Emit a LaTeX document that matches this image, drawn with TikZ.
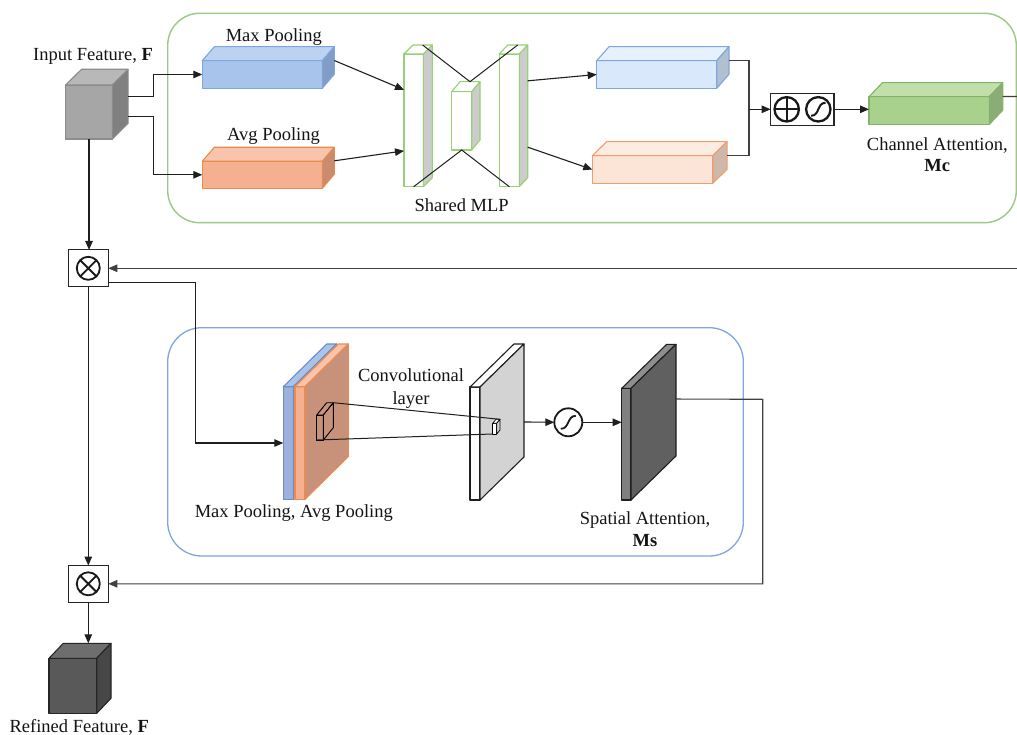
\documentclass[tikz,border=0pt]{standalone}
\usepackage{fontspec}
\setmainfont{Liberation Serif}
\usetikzlibrary{arrows.meta,calc}
\definecolor{cInF}{HTML}{A6A6A6}\definecolor{cInT}{HTML}{B8B8B8}\definecolor{cInS}{HTML}{808080}\definecolor{cInL}{HTML}{8C8C8C}
\definecolor{cMpF}{HTML}{A9C4EB}\definecolor{cMpT}{HTML}{BDD2F0}\definecolor{cMpS}{HTML}{809DC6}\definecolor{cMpL}{HTML}{7EA6E0}
\definecolor{cApF}{HTML}{F5B08F}\definecolor{cApT}{HTML}{F8C5AC}\definecolor{cApS}{HTML}{C98C70}\definecolor{cApL}{HTML}{EA8A4E}
\definecolor{cLbF}{HTML}{DAE8FC}\definecolor{cLbT}{HTML}{E7F0FD}\definecolor{cLbS}{HTML}{B2BFD0}
\definecolor{cLoF}{HTML}{FCE4D6}\definecolor{cLoT}{HTML}{FDECE2}\definecolor{cLoS}{HTML}{CDB8AA}\definecolor{cLoL}{HTML}{F19C6A}
\definecolor{cGrF}{HTML}{A9D18E}\definecolor{cGrT}{HTML}{C0DFAB}\definecolor{cGrS}{HTML}{8CAC75}\definecolor{cGrL}{HTML}{82B366}
\definecolor{cMlL}{HTML}{97D077}\definecolor{cMlS}{HTML}{CCCCCC}
\definecolor{cBsF}{HTML}{9DB1DF}\definecolor{cBsL}{HTML}{6C8EBF}
\definecolor{cOsF}{HTML}{F5B08F}\definecolor{cOsS}{HTML}{C7917A}\definecolor{cOsL}{HTML}{ED8A50}
\definecolor{cGlS}{HTML}{D3D3D3}\definecolor{cDkF}{HTML}{808080}\definecolor{cDkT}{HTML}{8E8E8E}\definecolor{cDkS}{HTML}{606060}
\definecolor{cOuF}{HTML}{595959}\definecolor{cOuT}{HTML}{6E6E6E}\definecolor{cOuS}{HTML}{474747}\definecolor{cOuL}{HTML}{262626}
\definecolor{cGreenBox}{HTML}{9CC983}\definecolor{cBlueBox}{HTML}{7EA6E0}
\definecolor{cLine}{HTML}{1F1F1F}\definecolor{cLine2}{HTML}{404040}
\tikzset{
 face/.style={line width=1.1pt,line join=round},
 inF/.style={fill=cInF,draw=cInL},inT/.style={fill=cInT,draw=cInL},inS/.style={fill=cInS,draw=cInL},
 mpF/.style={fill=cMpF,draw=cMpL},mpT/.style={fill=cMpT,draw=cMpL},mpS/.style={fill=cMpS,draw=cMpL},
 apF/.style={fill=cApF,draw=cApL},apT/.style={fill=cApT,draw=cApL},apS/.style={fill=cApS,draw=cApL},
 lbF/.style={fill=cLbF,draw=cMpL},lbT/.style={fill=cLbT,draw=cMpL},lbS/.style={fill=cLbS,draw=cMpL},
 loF/.style={fill=cLoF,draw=cLoL},loT/.style={fill=cLoT,draw=cLoL},loS/.style={fill=cLoS,draw=cLoL},
 grF/.style={fill=cGrF,draw=cGrL},grT/.style={fill=cGrT,draw=cGrL},grS/.style={fill=cGrS,draw=cGrL},
 mlF/.style={fill=white,draw=cMlL},mlT/.style={fill=white,draw=cMlL},mlS/.style={fill=cMlS,draw=cMlL},
 bsF/.style={fill=cBsF,draw=cBsL},bsT/.style={fill=cMpF,draw=cBsL},bsS/.style={fill=cBsF,draw=cBsL},
 osF/.style={fill=cOsF,draw=cOsL},osT/.style={fill=cApT,draw=cOsL},osS/.style={fill=cOsS,draw=cOsL},
 glF/.style={fill=white,draw=cLine},glT/.style={fill=white,draw=cLine},glS/.style={fill=cGlS,draw=cLine},
 dkF/.style={fill=cDkF,draw=cLine},dkT/.style={fill=cDkT,draw=cLine},dkS/.style={fill=cDkS,draw=cLine},
 ouF/.style={fill=cOuF,draw=cOuL},ouT/.style={fill=cOuT,draw=cOuL},ouS/.style={fill=cOuS,draw=cOuL},
 kF/.style={fill=none,draw=black,line width=0.9pt},kT/.style={fill=none,draw=black,line width=0.9pt},kS/.style={fill=none,draw=black,line width=0.9pt},
 k2F/.style={fill=white,draw=black,line width=0.7pt},k2T/.style={fill=white,draw=black,line width=0.7pt},k2S/.style={fill=cGlS,draw=black,line width=0.7pt},
 conn/.style={draw=cLine,line width=1.1pt},
 conn2/.style={draw=cLine2,line width=1.1pt},
 lbl/.style={inner sep=0pt,anchor=base,text=black!92,align=center},
 opbox/.style={draw=black!85,line width=1.1pt,fill=white,inner sep=0pt,outer sep=0pt},
}
\newcommand\cub[8]{%
 \node[face,#8F,minimum width=#4pt,minimum height=#5pt,anchor=north west,inner sep=0pt,outer sep=0pt] (#1) at (#2,#3) {};
 \path (#1.north west) ++(#6,-#7) coordinate (#1bnw);
 \path (#1.north east) ++(#6,-#7) coordinate (#1bne);
 \path (#1.south east) ++(#6,-#7) coordinate (#1bse);
 \draw[face,#8T] (#1.north west) -- (#1bnw) -- (#1bne) -- (#1.north east) -- cycle;
 \draw[face,#8S] (#1.north east) -- (#1bne) -- (#1bse) -- (#1.south east) -- cycle;
}
\begin{document}
\begin{tikzpicture}[x=1pt,y=-1pt,>={Triangle[length=9pt,width=7.5pt]},font=\fontsize{18.5}{21.5}\selectfont]
\useasboundingbox (0,0) rectangle (1017,735);
\fill[white] (0,0) rectangle (1017,735);
% group boxes
\draw[draw=cGreenBox,line width=1.4pt,rounded corners=32pt] (167.7,13.3) rectangle (1016.3,222.7);
\draw[draw=cBlueBox,line width=1.3pt,rounded corners=34pt] (167.7,327.7) rectangle (743.3,556);
% ---- channel attention ----
\cub{in}{65.7}{85}{46.6}{54}{15.8}{15.7}{in}
\cub{mp}{202.3}{60.7}{120}{27.6}{12}{14}{mp}
\cub{ap}{202.3}{161.3}{120}{27}{12}{14}{ap}
\cub{la}{404}{54}{19.3}{132.7}{9}{9}{ml}
\cub{lm}{451.7}{91.7}{20}{58.3}{8.3}{10}{ml}
\cub{lc}{499.3}{54}{20}{132.7}{8.4}{9}{ml}
\cub{lb}{596.7}{60.7}{120}{27.6}{12.3}{14}{lb}
\cub{lo}{592.3}{155.7}{120.4}{27.6}{14.4}{14}{lo}
\cub{gr}{869}{96.7}{120.3}{27.6}{13.4}{14}{gr}
\node[opbox,minimum width=63.3pt,minimum height=32pt] (ps) at (802.3,109.3) {};
\draw[line width=2.3pt,black!90] (786.7,109.3) coordinate (pc) circle (12.2pt);
\draw[line width=2.3pt,black!90] ($(pc)+(-12.2,0)$) -- ($(pc)+(12.2,0)$) ($(pc)+(0,-12.2)$) -- ($(pc)+(0,12.2)$);
\draw[line width=2.3pt,black!90] (818.3,109.3) coordinate (sc) circle (12.2pt);
\draw[line width=2pt,black!90] ($(sc)+(-7.2,6.5)$) .. controls ($(sc)+(1.5,6.5)$) and ($(sc)+(-1.5,-6.5)$) .. ($(sc)+(7.2,-6.5)$);
% labels
\node[lbl] (tin) at (93,61) {Input Feature, \textbf{F}};
\node[lbl] (tmp) at (273.8,42) {Max Pooling};
\node[lbl] (tap) at (273.5,140.7) {Avg Pooling};
\node[lbl] (tml) at (461.7,212) {Shared MLP};
\node[lbl] (tgr) at (937.3,171.7) {Channel Attention,\\\textbf{Mc}};
% MLP internal lines
\draw[draw=cLine,line width=1pt] ($(labnw)!.5!(labne)$) -- ($(lmbnw)!.5!(lmbne)$) -- ($(lcbnw)!.5!(lcbne)$);
\draw[draw=cLine,line width=1pt] (la.south) -- (lm.south) -- (lc.south);
% connectors
\coordinate (inA) at ($(inbne)!0.5!(inbse)$);
\coordinate (inB) at ($(inbne)!0.87!(inbse)$);
\draw[conn,->] (inA) -- ++(25.6,0) |- (mp.west);
\draw[conn,->] (inB) -- ++(25.6,0) |- (ap.west);
\draw[conn,->] ($(mpbne)!0.5!(mpbse)$) -- ($(la.north west)!0.27!(la.south west)$);
\draw[conn,->] ($(apbne)!0.5!(apbse)$) -- ($(la.north west)!0.73!(la.south west)$);
\draw[conn,->] ($(lcbne)!0.27!(lcbse)$) -- (lb.west);
\draw[conn,->] ($(lcbne)!0.77!(lcbse)$) -- (lo.west);
\coordinate (jn) at (749,109.3);
\draw[conn2] ($(lbbne)!0.5!(lbbse)$) -| (jn) |- ($(lobne)!0.5!(lobse)$);
\draw[conn,->] (jn) -- (ps.west);
\draw[conn,->] (ps.east) -- (ps -| gr.west);
\coordinate (mcOut) at (1017,96.5);
\draw[conn2] ($(grbne)!0.5!(grbse)$) -- (mcOut);
% ---- multiply 1 ----
\node[opbox,minimum width=40pt,minimum height=36.7pt] (m1) at (88.3,268.3) {};
\draw[line width=1.8pt,black!90] (m1.center) circle (11.5pt) ($(m1.center)+(-8.1,-8.1)$) -- ($(m1.center)+(8.1,8.1)$) ($(m1.center)+(-8.1,8.1)$) -- ($(m1.center)+(8.1,-8.1)$);
\draw[conn,->] (in.south) -- (in.south |- m1.north);
\coordinate (mcBack) at (1017,268.3);
\draw[conn2,->] (mcBack) -- (m1.east);
% ---- spatial attention ----
\cub{bs}{283.3}{386.7}{10}{112.6}{43.4}{42.7}{bs}
\cub{os}{295}{386.7}{10}{112.6}{43.3}{42.7}{os}
\cub{gl}{470}{387}{10}{113}{44}{43}{gl}
\cub{dk}{621.7}{388.3}{9.3}{111.7}{45}{44}{dk}
\cub{ka}{316.7}{415}{6.6}{25}{10}{12.3}{k}
\cub{kb}{492.7}{423.3}{4}{10.7}{3.3}{4}{k2}
\draw[draw=cLine,line width=1pt] (kabne) -- (kbbne);
\draw[draw=cLine,line width=1pt] (ka.south west) -- (kb.south west);
\node[draw=black!90,line width=1.8pt,circle,minimum size=28pt,inner sep=0pt,outer sep=0pt,fill=white] (sg) at (568.3,422.3) {};
\draw[line width=1.8pt,black!90] ($(sg)+(-7.5,6.5)$) .. controls ($(sg)+(1.5,6.5)$) and ($(sg)+(-1.5,-6.5)$) .. ($(sg)+(7.5,-6.5)$);
\draw[conn,->] ($(m1.east)+(0,14)$) -- (195.7,282.3) |- (bs.west);
\draw[conn,->] ($(glbne)!0.69!(glbse)$) -- (sg.west);
\draw[conn,->] (sg.east) -- (sg -| dk.west);
\node[lbl] (tcv) at (411,404.3) {Convolutional\\[1.8pt]layer};
\node[lbl] (tpp) at (293.8,517.7) {Max Pooling, Avg Pooling};
\node[lbl] (tsa) at (645,546) {Spatial Attention,\\\textbf{Ms}};
% ---- multiply 2 ----
\node[opbox,minimum width=40pt,minimum height=36.5pt] (m2) at (88.3,583.8) {};
\draw[line width=1.8pt,black!90] (m2.center) circle (11.5pt) ($(m2.center)+(-8.1,-8.1)$) -- ($(m2.center)+(8.1,8.1)$) ($(m2.center)+(-8.1,8.1)$) -- ($(m2.center)+(8.1,-8.1)$);
\draw[conn,->] (m1.south) -- (m2.north);
\draw[conn2,->] ($(dkbne)!0.49!(dkbse)$) -- (762.7,399.3) |- (m2.east);
% output
\cub{ou}{49}{658.3}{47.7}{55}{14.3}{15}{ou}
\coordinate (outTop) at (88.3,643.3);
\draw[conn,->] (m2.south) -- (outTop);
\node[lbl] (tou) at (79.2,732) {Refined Feature, \textbf{F}};
\end{tikzpicture}
\end{document}
